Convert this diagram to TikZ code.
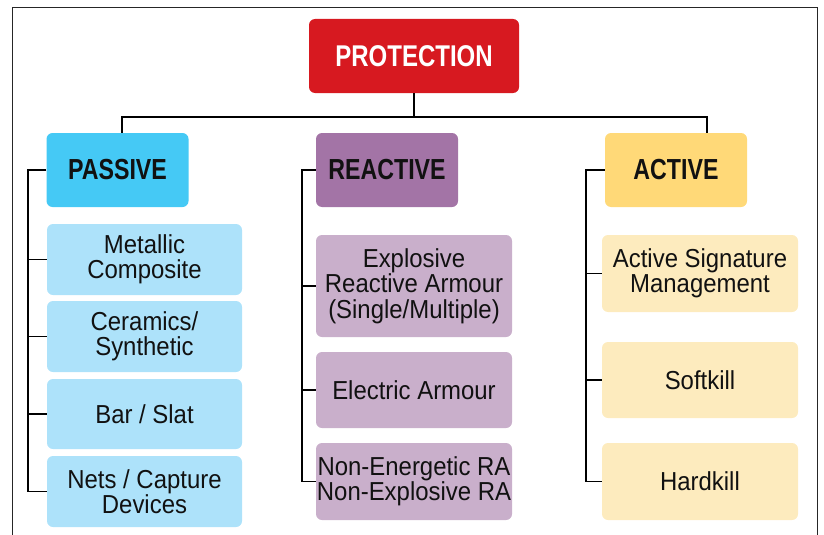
\documentclass[tikz,border=0pt]{standalone}
\usepackage{fontspec}
\setmainfont{Liberation Sans}
\newfontfamily\childfont{Liberation Sans}[FakeStretch=0.92]
\newfontfamily\headfont{Liberation Sans}[FakeStretch=0.8]
\definecolor{protred}{HTML}{D71920}
\definecolor{pashead}{HTML}{45C9F5}
\definecolor{paschild}{HTML}{ADE2FA}
\definecolor{reahead}{HTML}{A374A6}
\definecolor{reachild}{HTML}{C9AFCB}
\definecolor{acthead}{HTML}{FFD978}
\definecolor{actchild}{HTML}{FDEBBE}
\definecolor{txt}{HTML}{111111}
\begin{document}
\begin{tikzpicture}[x=1pt,y=-1pt,
  box/.style={rectangle,rounded corners=6pt,inner sep=0pt,align=center,text=txt},
  head/.style={box,minimum width=142pt,minimum height=74pt,font=\headfont\fontsize{29}{29}\selectfont\bfseries},
  child/.style={box,minimum width=196pt,font=\childfont\fontsize{26}{25.5}\selectfont},
  conn/.style={draw=black,line width=1.1pt},
  frame/.style={draw=black!85,line width=1pt}]
\useasboundingbox (0,0) rectangle (824,535);
\draw[frame] (12,535) -- (12,8) -- (817,8) -- (817,535);

\node[box,fill=protred,text=white,minimum width=210pt,minimum height=74pt,font=\headfont\fontsize{30}{30}\selectfont\bfseries] (prot) at (414,56) {\raisebox{-2pt}{PROTECTION}};

\node[head,fill=pashead] (pas) at (117.5,170) {PASSIVE};
\node[head,fill=reahead] (rea) at (387,170) {REACTIVE};
\node[head,fill=acthead] (act) at (676,170) {ACTIVE};

\node[child,fill=paschild,minimum width=195pt,minimum height=71pt] (m1) at (144.5,259.5) {Metallic\\Composite};
\node[child,fill=paschild,minimum width=195pt,minimum height=71pt] (m2) at (144.5,336.5) {Ceramics/\\Synthetic};
\node[child,fill=paschild,minimum width=195pt,minimum height=70pt] (m3) at (144.5,414) {Bar / Slat};
\node[child,fill=paschild,minimum width=195pt,minimum height=71pt] (m4) at (144.5,491.5) {Nets / Capture\\Devices};

\node[child,fill=reachild,minimum height=102pt] (r1) at (414,286) {Explosive\\Reactive Armour\\(Single/Multiple)};
\node[child,fill=reachild,minimum height=76pt] (r2) at (414,390) {Electric Armour};
\node[child,fill=reachild,minimum height=77pt] (r3) at (414,481.5) {Non-Energetic RA\\Non-Explosive RA};

\node[child,fill=actchild,minimum height=77pt] (a1) at (700,273.5) {Active Signature\\Management};
\node[child,fill=actchild,minimum height=76pt] (a2) at (700,380) {Softkill};
\node[child,fill=actchild,minimum height=77pt] (a3) at (700,481.5) {Hardkill};

% top connectors
\coordinate (bar) at (0,117);
\coordinate (pl) at (122,0);
\coordinate (al) at (707,0);
\draw[conn] (prot.south) -- (prot.south |- bar);
\draw[conn] (pas.north -| pl) -- (pl |- bar) -- (al |- bar) -- (act.north -| al);

% passive
\coordinate (psx) at (28,0);
\draw[conn] (pas.west) -- (pas.west -| psx) |- (m4.west);
\foreach \n in {m1,m2,m3} \draw[conn] (\n.west) -- (\n.west -| psx);

% reactive
\coordinate (rsx) at (302,0);
\draw[conn] (rea.west) -- (rea.west -| rsx) |- (r3.west);
\foreach \n in {r1,r2} \draw[conn] (\n.west) -- (\n.west -| rsx);

% active
\coordinate (asx) at (586,0);
\draw[conn] (act.west) -- (act.west -| asx) |- (a3.west);
\foreach \n in {a1,a2} \draw[conn] (\n.west) -- (\n.west -| asx);
\end{tikzpicture}
\end{document}
